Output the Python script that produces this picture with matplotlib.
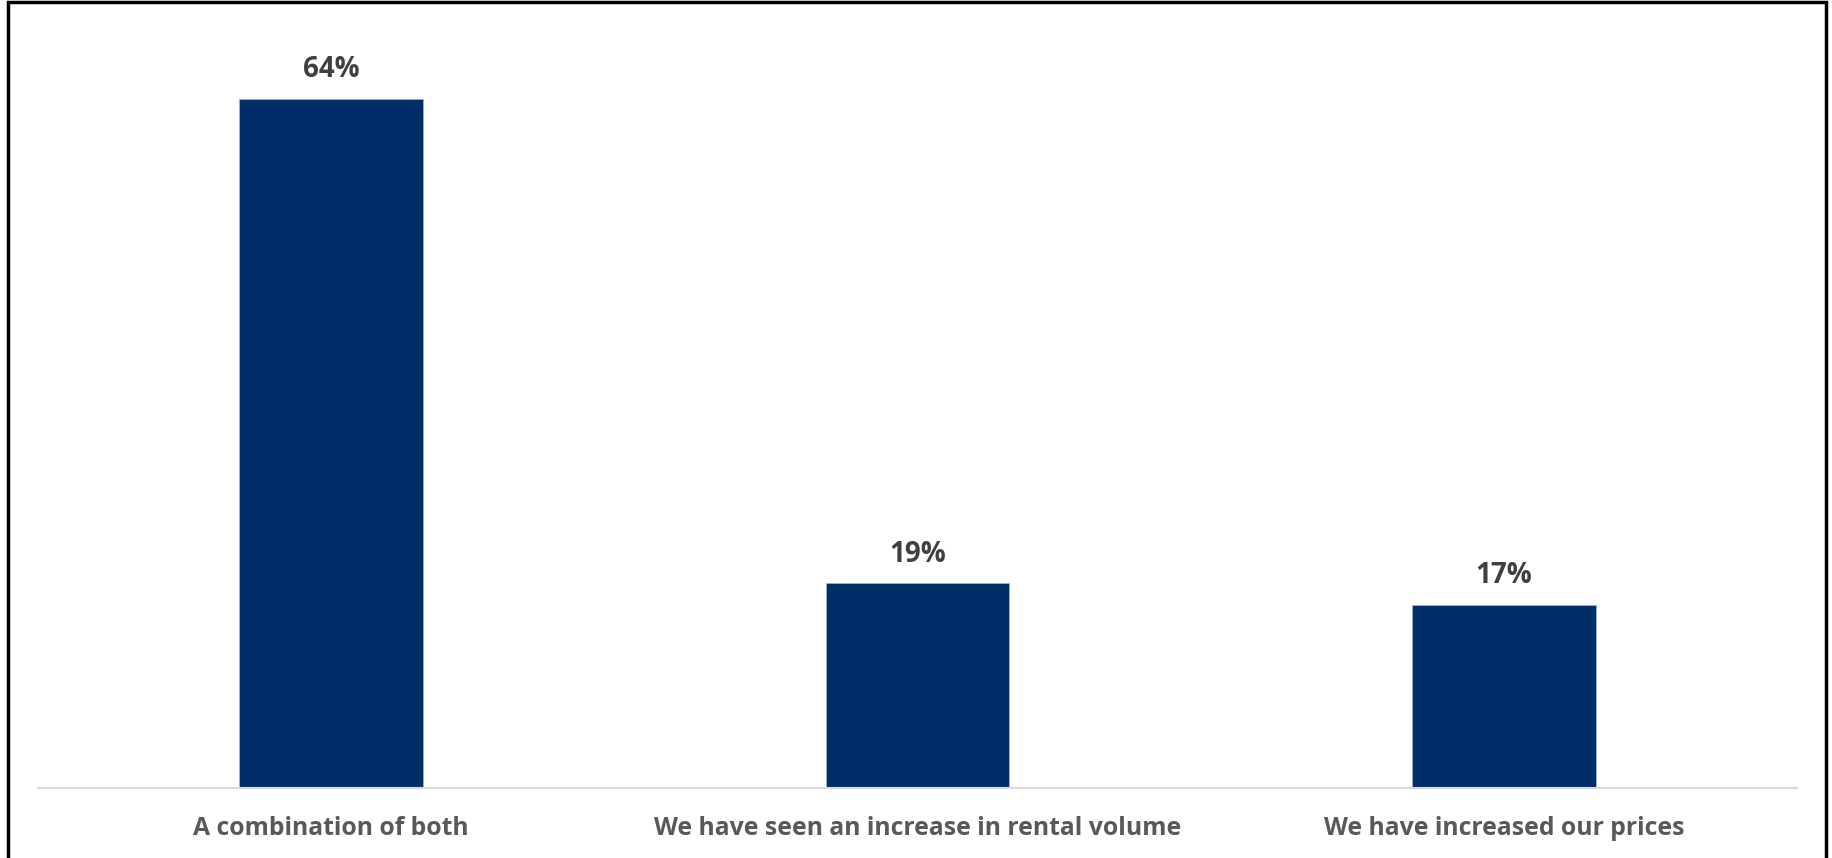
import matplotlib.pyplot as plt
from matplotlib.patches import Rectangle

# chart data
categories = ['A combination of both',
              'We have seen an increase in rental volume',
              'We have increased our prices']
values = [64, 19, 17]
value_labels = ['64%', '19%', '17%']

W, H = 1833, 858
fig = plt.figure(figsize=(W / 100, H / 100), dpi=100)
fig.patch.set_facecolor('white')

# axes placed in pixel terms: baseline y=788, x from 38 to 1797
ax_left, ax_right = 38 / W, 1797 / W
ax_bottom = (H - 788) / H
ax_top = (H - 32) / H
ax = fig.add_axes([ax_left, ax_bottom, ax_right - ax_left, ax_top - ax_bottom])

x = range(len(categories))
bars = ax.bar(x, values, width=0.313, color='#002e69', edgecolor='#9db3d6',
              linewidth=0.6, zorder=2)
ax.set_xlim(-0.5, len(categories) - 0.5)
ax.set_ylim(0, 70.2)

for b, lab in zip(bars, value_labels):
    ax.annotate(lab, (b.get_x() + b.get_width() / 2, b.get_height()),
                xytext=(0, 29), textcoords='offset pixels',
                ha='center', va='center', fontsize=20, fontweight='bold',
                color='#404040', family='Open Sans')

ax.set_xticks(list(x))
ax.set_xticklabels(categories, fontsize=17.8, fontweight='bold',
                   color='#595959', family='Open Sans')
ax.tick_params(axis='x', length=0, pad=20)
ax.set_yticks([])
for s in ['top', 'right', 'left']:
    ax.spines[s].set_visible(False)
ax.spines['bottom'].set_color('#d9d9d9')
ax.spines['bottom'].set_linewidth(1.5)

# black frame around the chart (bottom edge runs off the image)
frame = Rectangle((8 / W, -0.05), (1826 - 8) / W, (H - 2) / H + 0.05,
                  transform=fig.transFigure, fill=False, edgecolor='black',
                  linewidth=2.5, clip_on=False)
fig.patches.append(frame)

fig.savefig('out.png', dpi=100)
